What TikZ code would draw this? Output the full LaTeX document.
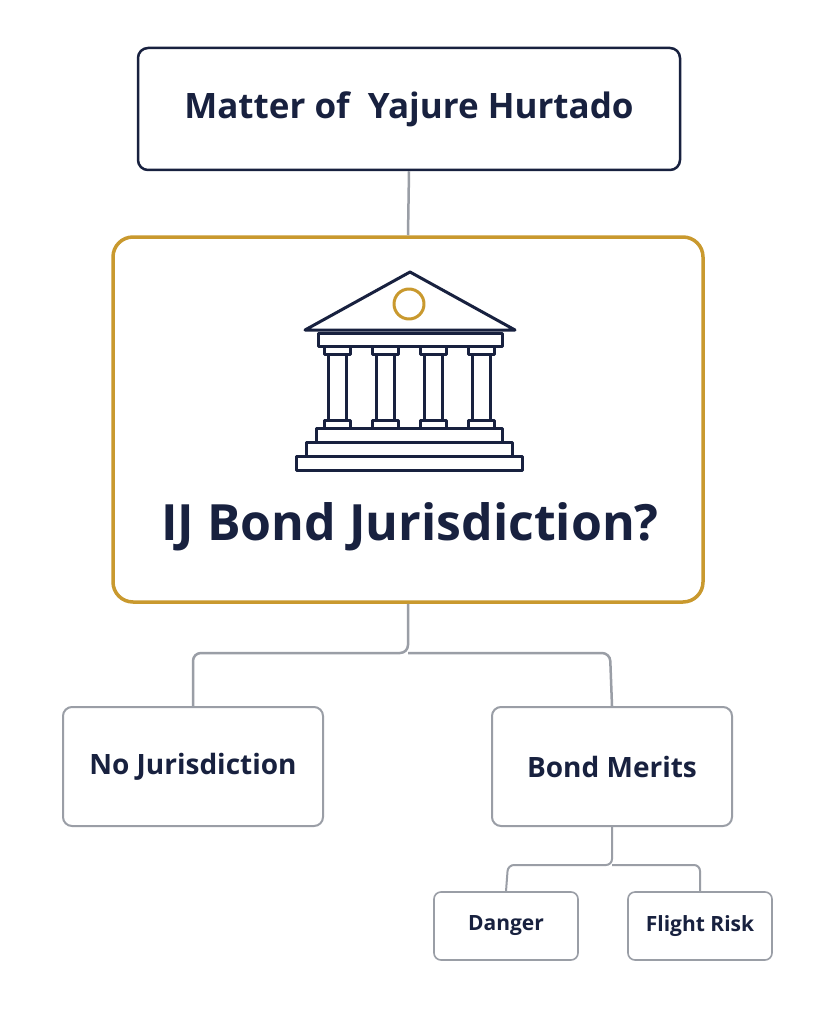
\documentclass[tikz,border=0pt]{standalone}
\usepackage{fontspec}
\setmainfont{Open Sans}
\begin{document}
\begin{tikzpicture}[x=1pt,y=-1pt,
  box/.style={draw=grayc,line width=2pt,rounded corners=9pt},
  conn/.style={draw=grayc,line width=2.5pt},
  lbl/.style={text=navyc,font=\bfseries}]
\definecolor{navyc}{HTML}{18213F}
\definecolor{grayc}{HTML}{9A9EA6}
\definecolor{goldc}{HTML}{C9992E}
\useasboundingbox (0,0) rectangle (819,1024);
\fill[white] (0,0) rectangle (819,1024);
% boxes
\node[draw=navyc,line width=2.5pt,rounded corners=10pt,minimum width=542pt,minimum height=122pt,inner sep=0] (top) at (409,109) {};
\node[lbl,font=\bfseries\fontsize{35}{40}\selectfont] (toptxt) at (top.center) {Matter of\ \ Yajure Hurtado};
\node[draw=goldc,line width=3.5pt,rounded corners=20pt,minimum width=590pt,minimum height=365pt,inner sep=0] (main) at (408,419.5) {};
\node[lbl,font=\bfseries\fontsize{50}{56}\selectfont] (maintxt) at (410,527) {IJ Bond Jurisdiction?};
\node[box,minimum width=260pt,minimum height=119pt,inner sep=0] (no) at (193,766.5) {};
\node[lbl,font=\bfseries\fontsize{28}{32}\selectfont] at (no.center) {No Jurisdiction};
\node[box,minimum width=240pt,minimum height=119pt,inner sep=0] (bm) at (612,766.5) {};
\node[lbl,font=\bfseries\fontsize{28}{32}\selectfont] at (bm.center) {Bond Merits};
\node[box,line width=1.6pt,rounded corners=7pt,minimum width=144pt,minimum height=68pt,inner sep=0] (dg) at (506,926) {};
\node[lbl,font=\bfseries\fontsize{21}{25}\selectfont] at (dg.center) {Danger};
\node[box,line width=1.6pt,rounded corners=7pt,minimum width=144pt,minimum height=68pt,inner sep=0] (fr) at (700,926) {};
\node[lbl,font=\bfseries\fontsize{21}{25}\selectfont] at (fr.center) {Flight Risk};
% connectors
\draw[conn] (top.south) -- (main.north);
\coordinate (j1) at (408,653);
\draw[conn,rounded corners=8pt] (main.south) -- (j1) -- (193,653) -- (no.north);
\draw[conn,rounded corners=8pt] (j1) -- (610,653) -- (bm.north);
\coordinate (j2) at (612,865);
\draw[conn,line width=2pt,rounded corners=6pt] (bm.south) -- (j2) -- (508,865) -- (dg.north);
\draw[conn,line width=2pt,rounded corners=6pt] (j2) -- (700,865) -- (fr.north);
% building icon
\begin{scope}[draw=navyc,line width=3pt,line join=round]
\draw (305,330) -- (410,272) -- (515,330) -- cycle;
\draw[goldc] (409,304) circle (15);
\draw (318,333) rectangle (502,346);
\foreach \cx in {337,385,433,481}{
  \draw (\cx-13,346) rectangle (\cx+13,354);
  \draw (\cx-9,354) rectangle (\cx+9,420);
  \draw (\cx-13,420) rectangle (\cx+13,428);
}
\draw (316,428) rectangle (502,442);
\draw (306,442) rectangle (512,456);
\draw (296,456) rectangle (522,470);
\end{scope}
\end{tikzpicture}
\end{document}
